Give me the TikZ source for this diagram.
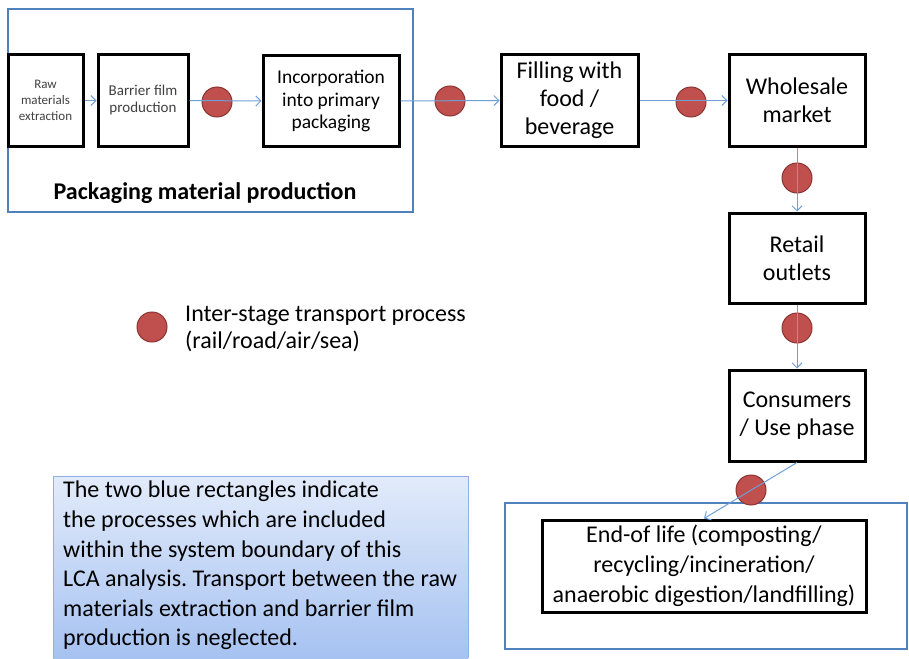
\documentclass[tikz,border=0pt]{standalone}
\usepackage{fontspec}
\setmainfont{Carlito}
\frenchspacing
\usetikzlibrary{arrows.meta}
\definecolor{boundary}{HTML}{4F81BD}
\definecolor{flow}{HTML}{6F9FD8}
\definecolor{dotfill}{HTML}{C0504D}
\definecolor{dotline}{HTML}{8C3432}
\definecolor{notetop}{HTML}{E2EBFA}
\definecolor{notebot}{HTML}{A6C2F1}
\definecolor{noteline}{HTML}{8EB0E6}
\definecolor{smallgray}{HTML}{404040}
\begin{document}
\begin{tikzpicture}[x=1pt,y=-1pt,
  stagebox/.style={draw=black, line width=3pt, fill=white, inner sep=0pt, align=center},
  bigtext/.style={font=\fontsize{24}{28}\selectfont},
  transportdot/.style={circle, fill=dotfill, draw=dotline, line width=1pt, minimum size=30pt, inner sep=0pt},
  flowarrow/.style={draw=flow, line width=1pt, -{Straight Barb[length=5pt,width=10pt]}},
  sysbound/.style={draw=boundary, line width=2pt}]
\useasboundingbox (0,0) rectangle (909,658);

% system boundaries
\draw[sysbound] (8,9) rectangle (413,212);
\draw[sysbound] (505,503) rectangle (907,649);

% note box
\shade[top color=notetop, bottom color=notebot] (53,476) rectangle (468,658);
\draw[draw=noteline, line width=1pt] (53,658) -- (53,476) -- (468,476) -- (468,658);
\node[anchor=north west, inner sep=0pt, align=left, font=\fontsize{24}{29.6}\selectfont] (note) at (63,481)
 {The two blue rectangles indicate\\
  the processes which are included\\
  within the system boundary of this\\
  LCA analysis. Transport between the raw\\
  materials extraction and barrier film\\
  production is neglected.};

% stages
\node[stagebox, minimum width=75pt, minimum height=91pt, text=smallgray, font=\fontsize{13}{16}\selectfont] (raw) at (45.5,100.5) {Raw\\materials\\extraction};
\node[stagebox, minimum width=90pt, minimum height=91pt, text=smallgray, font=\fontsize{15}{17}\selectfont] (barrier) at (143,100.5) {Barrier film\\production};
\node[stagebox, minimum width=136pt, minimum height=90pt, font=\fontsize{19.5}{22.5}\selectfont] (incorp) at (331,101) {Incorporation\\into primary\\packaging};
\node[stagebox, bigtext, minimum width=137pt, minimum height=91pt] (filling) at (569.5,100.5) {Filling with\\food /\\beverage};
\node[stagebox, bigtext, minimum width=136pt, minimum height=91pt] (wholesale) at (797,100.5) {Wholesale\\market};
\node[stagebox, bigtext, minimum width=136pt, minimum height=90pt] (retail) at (797,258) {Retail\\outlets};
\node[stagebox, bigtext, minimum width=136pt, minimum height=91pt] (consumers) at (797,415.5) {Consumers\\/ Use phase};
\node[stagebox, minimum width=324pt, minimum height=92pt, font=\fontsize{24}{30}\selectfont] (endlife) at (704,566) {End-of life (composting/\\recycling/incineration/\\anaerobic digestion/landfilling)};

% labels
\node[font=\bfseries\fontsize{24}{28}\selectfont] (pmp) at (205,193) {Packaging material production};

% transport dots
\node[transportdot] (d1) at (217,102) {};
\node[transportdot] (d2) at (450,101) {};
\node[transportdot] (d3) at (691,102) {};
\node[transportdot] (d4) at (797,178) {};
\node[transportdot] (d5) at (797,328) {};
\node[transportdot] (d6) at (751,490) {};

% legend
\node[transportdot] (legdot) at (152,327) {};
\node[anchor=west, align=left, inner sep=0pt, font=\fontsize{24}{27}\selectfont] (legtext) at (185,328.5) {Inter-stage transport process\\(rail/road/air/sea)};

% flows
\draw[flowarrow] (raw.east) -- (barrier.west);
\draw[flowarrow] (barrier.east) -- (incorp.west);
\draw[flowarrow] (incorp.east) -- (filling.west);
\draw[flowarrow] (filling.east) -- (wholesale.west);
\draw[flowarrow] (wholesale.south) -- (retail.north);
\draw[flowarrow] (retail.south) -- (consumers.north);
\draw[flowarrow] (consumers.south) -- (endlife.north);
\end{tikzpicture}
\end{document}
